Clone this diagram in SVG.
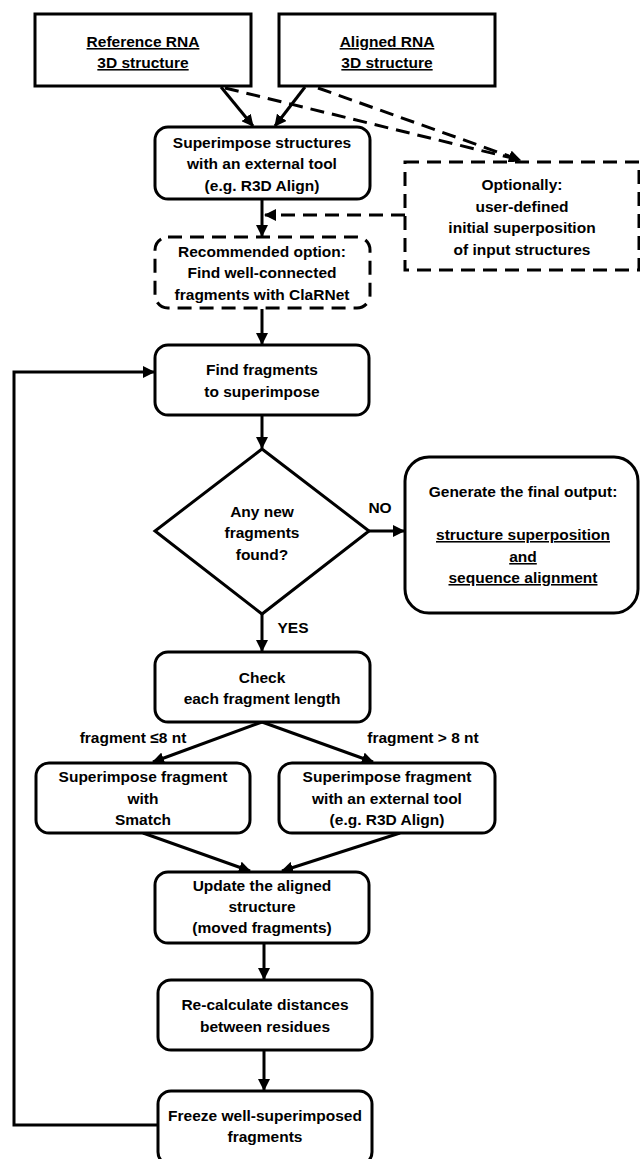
<svg xmlns="http://www.w3.org/2000/svg" width="640" height="1159" viewBox="0 0 640 1159">
<style>
.box{fill:#fff;stroke:#000;stroke-width:3}
.dbox{fill:#fff;stroke:#000;stroke-width:3;stroke-dasharray:14 8}
.t{font-family:"Liberation Sans",Arial,sans-serif;font-weight:bold;font-size:15.5px;text-anchor:middle;fill:#000}
.u{text-decoration:underline}
.c{fill:none;stroke:#000;stroke-width:3}
.d{fill:none;stroke:#000;stroke-width:3;stroke-dasharray:14 8}
</style>
<defs>
<marker id="ah" markerWidth="12" markerHeight="12" viewBox="0 0 12 12" refX="11" refY="6" orient="auto" markerUnits="userSpaceOnUse">
<path d="M0,0 L12,6 L0,12 Z" fill="#000"/>
</marker>
</defs>
<rect width="640" height="1159" fill="#fff"/>
<g id="connectors">
<line class="c" x1="221" y1="87" x2="253" y2="126" marker-end="url(#ah)"/>
<line class="c" x1="305" y1="87" x2="275" y2="126" marker-end="url(#ah)"/>
<line class="d" x1="225" y1="88" x2="520" y2="160" marker-end="url(#ah)"/>
<line class="d" x1="318" y1="88" x2="520" y2="160" marker-end="url(#ah)"/>
<polyline class="d" points="405,215 392,215 265,215" marker-end="url(#ah)"/>
<line class="c" x1="262" y1="199" x2="262" y2="236" marker-end="url(#ah)"/>
<line class="c" x1="262" y1="309" x2="262" y2="344" marker-end="url(#ah)"/>
<line class="c" x1="262" y1="415" x2="262" y2="448" marker-end="url(#ah)"/>
<line class="c" x1="369" y1="531" x2="404" y2="531" marker-end="url(#ah)"/>
<line class="c" x1="262" y1="614" x2="262" y2="651" marker-end="url(#ah)"/>
<line class="c" x1="262" y1="722" x2="153" y2="762" marker-end="url(#ah)"/>
<line class="c" x1="262" y1="722" x2="373" y2="762" marker-end="url(#ah)"/>
<line class="c" x1="143" y1="833" x2="250" y2="871" marker-end="url(#ah)"/>
<line class="c" x1="400" y1="833" x2="282" y2="871" marker-end="url(#ah)"/>
<line class="c" x1="264" y1="943" x2="264" y2="979" marker-end="url(#ah)"/>
<line class="c" x1="264" y1="1050" x2="264" y2="1090" marker-end="url(#ah)"/>
<polyline class="c" points="158,1125 14,1125 14,372 154,372" marker-end="url(#ah)"/>
<text class="t" x="380" y="513">NO</text>
<text class="t" x="293" y="633">YES</text>
<text class="t" x="133" y="743">fragment ≤8 nt</text>
<text class="t" x="423" y="743">fragment &gt; 8 nt</text>
</g>
<g id="ref">
<rect class="box" x="35" y="14" width="216" height="72"/>
<text class="t u" x="143" y="47">Reference RNA</text>
<text class="t u" x="143" y="68">3D structure</text>
</g>
<g id="aligned">
<rect class="box" x="279" y="14" width="216" height="72"/>
<text class="t u" x="387" y="47">Aligned RNA</text>
<text class="t u" x="387" y="68">3D structure</text>
</g>
<g id="superimpose">
<rect class="box" x="155" y="127" width="215" height="72" rx="13"/>
<text class="t" x="262" y="148">Superimpose structures</text>
<text class="t" x="262" y="169">with an external tool</text>
<text class="t" x="262" y="191">(e.g. R3D Align)</text>
</g>
<g id="optional">
<rect class="dbox" x="405" y="162" width="234" height="108"/>
<text class="t" x="522" y="190">Optionally:</text>
<text class="t" x="522" y="212">user-defined</text>
<text class="t" x="522" y="233">initial superposition</text>
<text class="t" x="522" y="255">of input structures</text>
</g>
<g id="recommended">
<rect class="dbox" x="155" y="237" width="215" height="71" rx="13"/>
<text class="t" x="262" y="257">Recommended option:</text>
<text class="t" x="262" y="278">Find well-connected</text>
<text class="t" x="262" y="300">fragments with ClaRNet</text>
</g>
<g id="find">
<rect class="box" x="155" y="345" width="214" height="70" rx="13"/>
<text class="t" x="262" y="375">Find fragments</text>
<text class="t" x="262" y="397">to superimpose</text>
</g>
<g id="decision">
<polygon class="box" points="262,449 369,531 262,614 155,531"/>
<text class="t" x="262" y="517">Any new</text>
<text class="t" x="262" y="538">fragments</text>
<text class="t" x="262" y="560">found?</text>
</g>
<g id="output">
<rect class="box" x="405" y="457" width="233" height="156" rx="24"/>
<text class="t" x="523" y="497">Generate the final output:</text>
<text class="t u" x="523" y="540">structure superposition</text>
<text class="t u" x="523" y="562">and</text>
<text class="t u" x="523" y="583">sequence alignment</text>
</g>
<g id="check">
<rect class="box" x="155" y="652" width="215" height="70" rx="13"/>
<text class="t" x="262" y="683">Check</text>
<text class="t" x="262" y="704">each fragment length</text>
</g>
<g id="smatch">
<rect class="box" x="36" y="763" width="214" height="70" rx="13"/>
<text class="t" x="143" y="782">Superimpose fragment</text>
<text class="t" x="143" y="804">with</text>
<text class="t" x="143" y="825">Smatch</text>
</g>
<g id="external">
<rect class="box" x="279" y="763" width="216" height="70" rx="13"/>
<text class="t" x="387" y="782">Superimpose fragment</text>
<text class="t" x="387" y="804">with an external tool</text>
<text class="t" x="387" y="825">(e.g. R3D Align)</text>
</g>
<g id="update">
<rect class="box" x="155" y="872" width="214" height="71" rx="13"/>
<text class="t" x="262" y="891">Update the aligned</text>
<text class="t" x="262" y="912">structure</text>
<text class="t" x="262" y="933">(moved fragments)</text>
</g>
<g id="recalc">
<rect class="box" x="158" y="980" width="214" height="70" rx="13"/>
<text class="t" x="265" y="1010">Re-calculate distances</text>
<text class="t" x="265" y="1032">between residues</text>
</g>
<g id="freeze">
<rect class="box" x="158" y="1091" width="214" height="74" rx="13"/>
<text class="t" x="265" y="1121">Freeze well-superimposed</text>
<text class="t" x="265" y="1142">fragments</text>
</g>
</svg>
